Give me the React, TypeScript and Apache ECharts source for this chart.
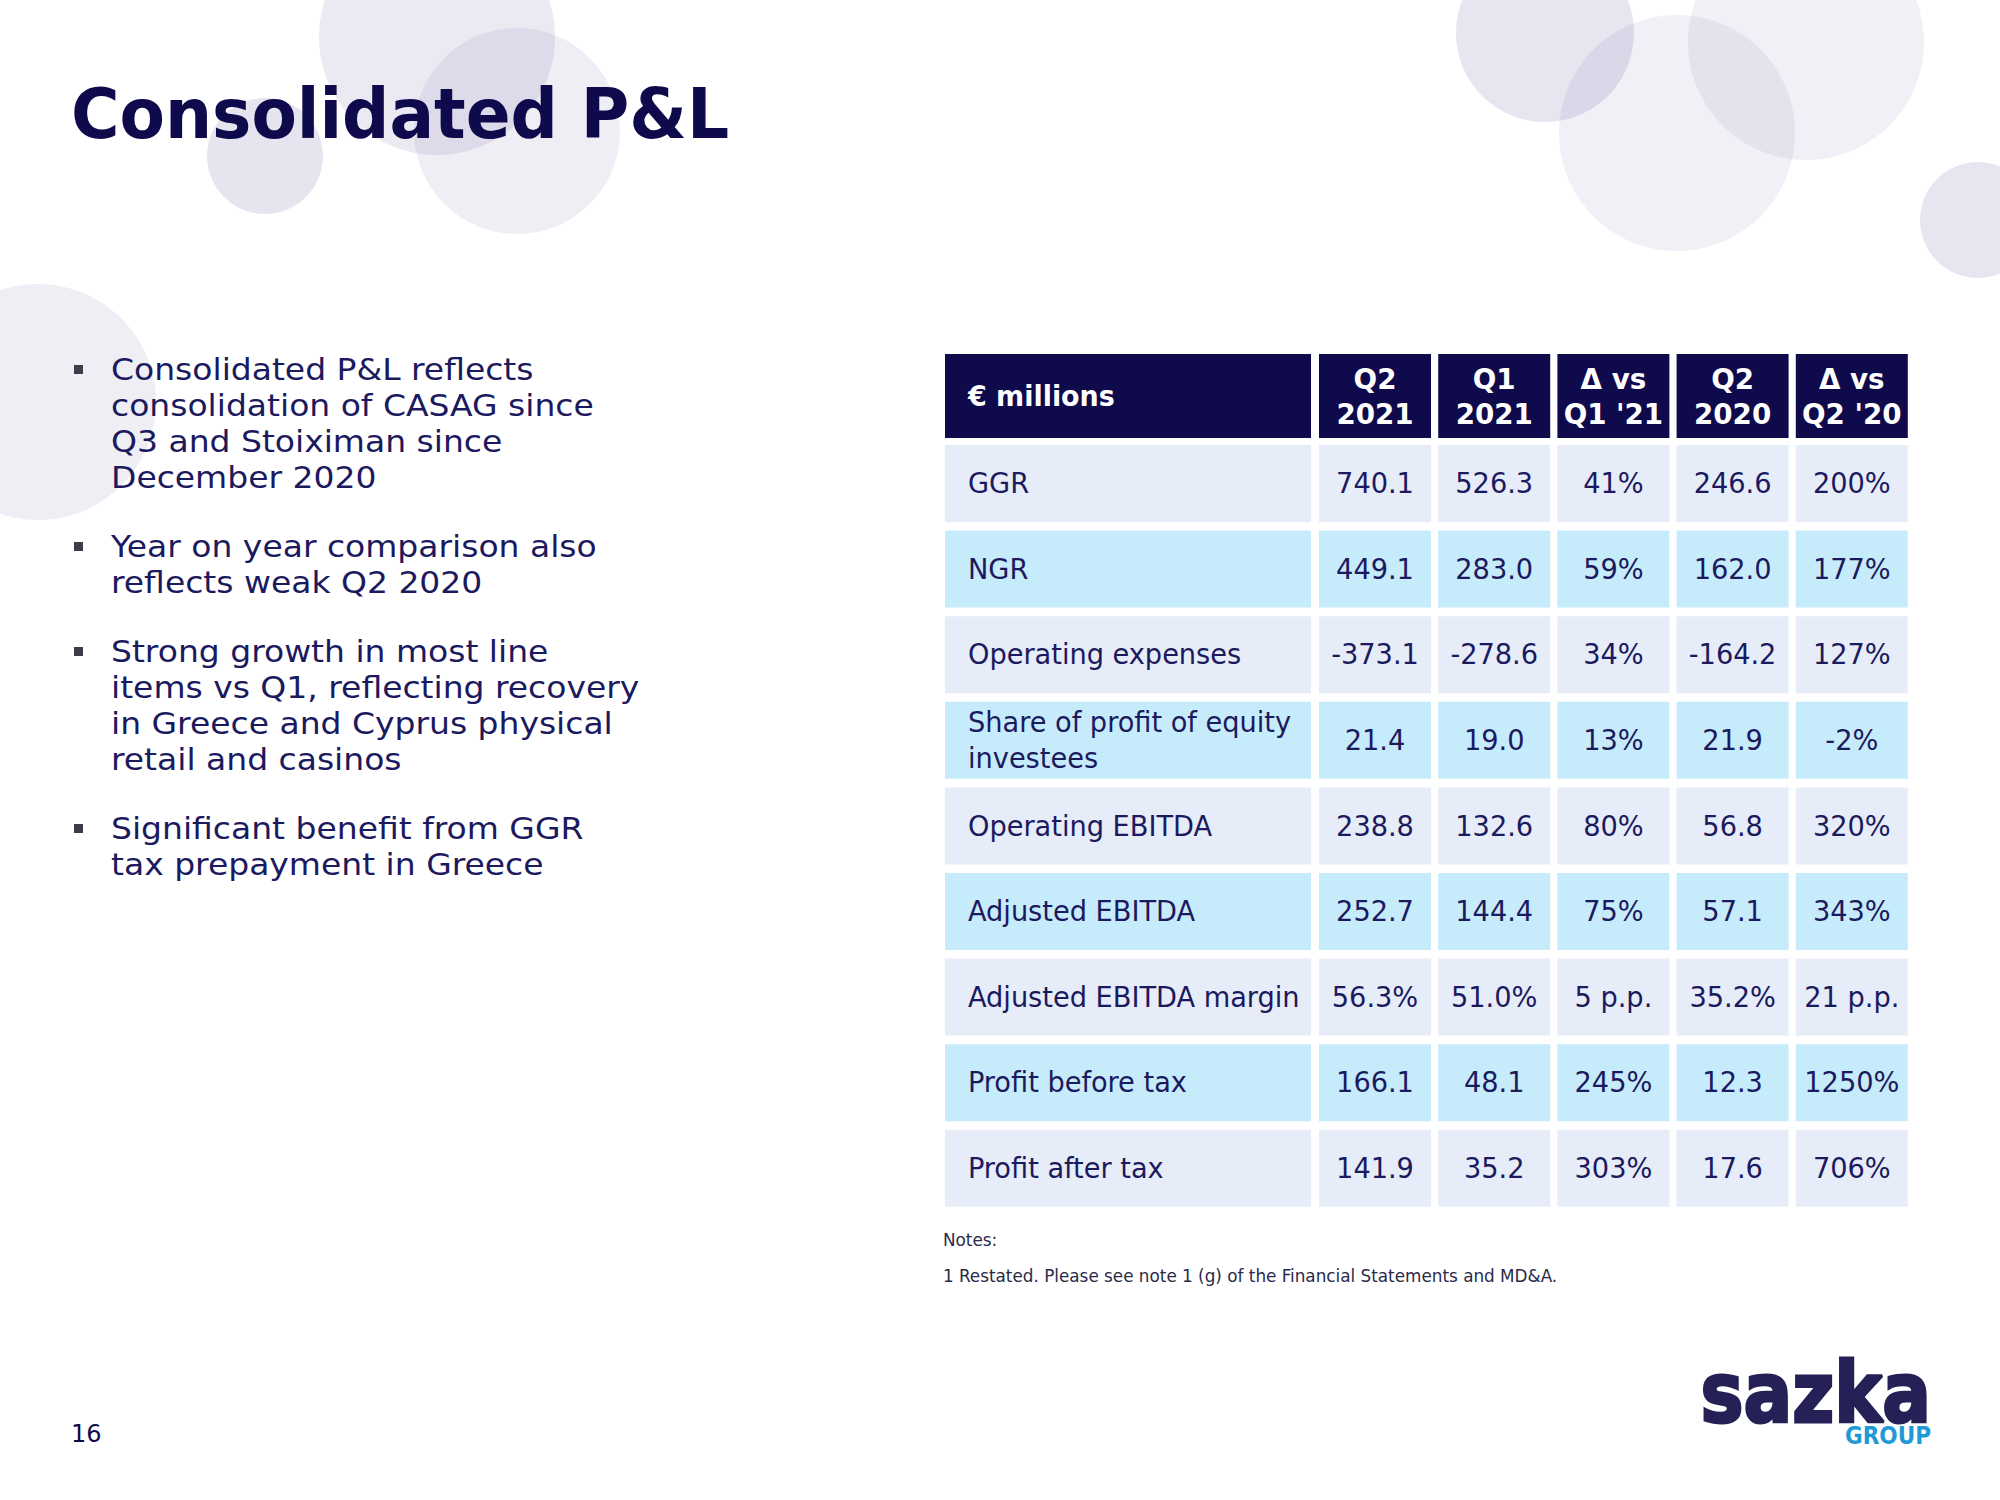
import React, { useEffect, useRef } from 'react';
import * as echarts from 'echarts';

const title = 'Consolidated P&L';
const bullets: string[][] = [
  ['Consolidated P&L reflects', 'consolidation of CASAG since', 'Q3 and Stoiximan since', 'December 2020'],
  ['Year on year comparison also', 'reflects weak Q2 2020'],
  ['Strong growth in most line', 'items vs Q1, reflecting recovery', 'in Greece and Cyprus physical', 'retail and casinos'],
  ['Significant benefit from GGR', 'tax prepayment in Greece'],
];
const headerLabel = '€ millions';
const columnHeaders = ['Q2\n2021', 'Q1\n2021', 'Δ vs\nQ1 \'21', 'Q2\n2020', 'Δ vs\nQ2 \'20'];
const rowLabels = [
  'GGR', 'NGR', 'Operating expenses', 'Share of profit of equity\ninvestees', 'Operating EBITDA',
  'Adjusted EBITDA', 'Adjusted EBITDA margin', 'Profit before tax', 'Profit after tax',
];
const q2_2021 = ['740.1', '449.1', '-373.1', '21.4', '238.8', '252.7', '56.3%', '166.1', '141.9'];
const q1_2021 = ['526.3', '283.0', '-278.6', '19.0', '132.6', '144.4', '51.0%', '48.1', '35.2'];
const deltaQ1 = ['41%', '59%', '34%', '13%', '80%', '75%', '5 p.p.', '245%', '303%'];
const q2_2020 = ['246.6', '162.0', '-164.2', '21.9', '56.8', '57.1', '35.2%', '12.3', '17.6'];
const deltaQ2 = ['200%', '177%', '127%', '-2%', '320%', '343%', '21 p.p.', '1250%', '706%'];
const notes = ['Notes:', '1 Restated. Please see note 1 (g) of the Financial Statements and MD&A.'];
const pageNumber = '16';

const NAVY = '#0e0a4b';
const TEXT = '#1c1a5e';
const ROW_A = '#e6ecf8';
const ROW_B = '#c6ebfb';
const COND = '"DejaVu Sans Condensed", "DejaVu Sans", sans-serif';
const SANS = '"DejaVu Sans", Verdana, sans-serif';

function txt(x: number, y: number, text: string, o: any = {}) {
  const ha = o.align || 'left';
  const va = o.valign || 'middle';
  const style: any = {
    text, fill: o.fill || TEXT, fontSize: o.size || 28, fontFamily: o.family || SANS,
    fontWeight: o.weight || 'normal', lineHeight: o.lh, textAlign: ha, textVerticalAlign: va,
    align: ha, verticalAlign: va,
  };
  if (o.stroke) { style.stroke = o.stroke; style.lineWidth = o.lw || 2; }
  return { type: 'text', x, y, z: o.z ?? 10, scaleX: o.scaleX ?? 1, style };
}

function buildOption() {
  const g: any[] = [];
  const circles = [
    [437, 37, 118, 0.13], [517, 131, 103, 0.1], [265, 156, 58, 0.17], [38, 402, 118, 0.1],
    [1545, 33, 89, 0.16], [1677, 133, 118, 0.09], [1806, 42, 118, 0.09], [1978, 220, 58, 0.16],
  ];
  circles.forEach(([cx, cy, r, a]) => g.push({
    type: 'circle', z: 1, shape: { cx, cy, r }, style: { fill: `rgba(100,92,160,${a})` },
  }));
  g.push(txt(71, 114, title, { size: 70, weight: 'bold', family: COND, fill: NAVY, scaleX: 1.05 }));
  const groupTops = [370, 547, 652, 829];
  bullets.forEach((lines, i) => {
    g.push({ type: 'rect', z: 5, shape: { x: 74, y: groupTops[i] - 5, width: 9, height: 9 }, style: { fill: '#3c3c4a' } });
    lines.forEach((l, j) => g.push(txt(111, groupTops[i] + j * 35.7, l, { size: 30, scaleX: 1.1 })));
  });
  const tableX = 945, labelW = 366, colX0 = 1319, colPitch = 119.2, colW = 112;
  const headerY = 354, headerH = 84, rowY0 = 445, rowPitch = 85.6, rowH = 77;
  g.push({ type: 'rect', z: 3, shape: { x: tableX, y: headerY, width: labelW, height: headerH }, style: { fill: NAVY } });
  g.push(txt(968, headerY + headerH / 2, headerLabel, { size: 28, weight: 'bold', family: COND, fill: '#ffffff', scaleX: 1.07 }));
  columnHeaders.forEach((h, c) => {
    const x = colX0 + c * colPitch;
    g.push({ type: 'rect', z: 3, shape: { x, y: headerY, width: colW, height: headerH }, style: { fill: NAVY } });
    g.push(txt(x + colW / 2, headerY + headerH / 2 + 1, h, { size: 28, weight: 'bold', family: COND, fill: '#ffffff', align: 'center', lh: 36, scaleX: 1.1 }));
  });
  const cols = [q2_2021, q1_2021, deltaQ1, q2_2020, deltaQ2];
  rowLabels.forEach((label, r) => {
    const y = rowY0 + r * rowPitch;
    const fill = r % 2 === 0 ? ROW_A : ROW_B;
    g.push({ type: 'rect', z: 3, shape: { x: tableX, y, width: labelW, height: rowH }, style: { fill } });
    g.push(txt(968, y + rowH / 2, label, { size: 28, family: COND, lh: 36, scaleX: 1.08 }));
    cols.forEach((col, c) => {
      const x = colX0 + c * colPitch;
      g.push({ type: 'rect', z: 3, shape: { x, y, width: colW, height: rowH }, style: { fill } });
      g.push(txt(x + colW / 2, y + rowH / 2, col[r], { size: 28, family: COND, align: 'center', scaleX: 1.08 }));
    });
  });
  g.push(txt(943, 1240, notes[0], { size: 17, family: COND, fill: '#2a2a4a', scaleX: 1.1 }));
  g.push(txt(943, 1276, notes[1], { size: 17, family: COND, fill: '#2a2a4a', scaleX: 1.1 }));
  g.push(txt(71, 1434, pageNumber, { size: 24, fill: NAVY }));
  g.push(txt(1931, 1393, 'sazka', { size: 84, weight: 'bold', family: SANS, fill: '#252157', align: 'right', scaleX: 0.86, stroke: '#252157', lw: 3 }));
  g.push(txt(1931, 1436, 'GROUP', { size: 24, weight: 'bold', family: COND, fill: '#1f9ad6', align: 'right' }));
  return { animation: false, backgroundColor: '#ffffff', graphic: { elements: g } };
}

export default function App() {
  const ref = useRef<HTMLDivElement>(null);
  useEffect(() => {
    const chart = echarts.init(ref.current!, null, { renderer: 'svg', width: 2000, height: 1500 });
    chart.setOption(buildOption() as any);
    return () => chart.dispose();
  }, []);
  return <div ref={ref} style={{ position: 'absolute', left: 0, top: 0, width: 2000, height: 1500, background: '#fff' }} />;
}
